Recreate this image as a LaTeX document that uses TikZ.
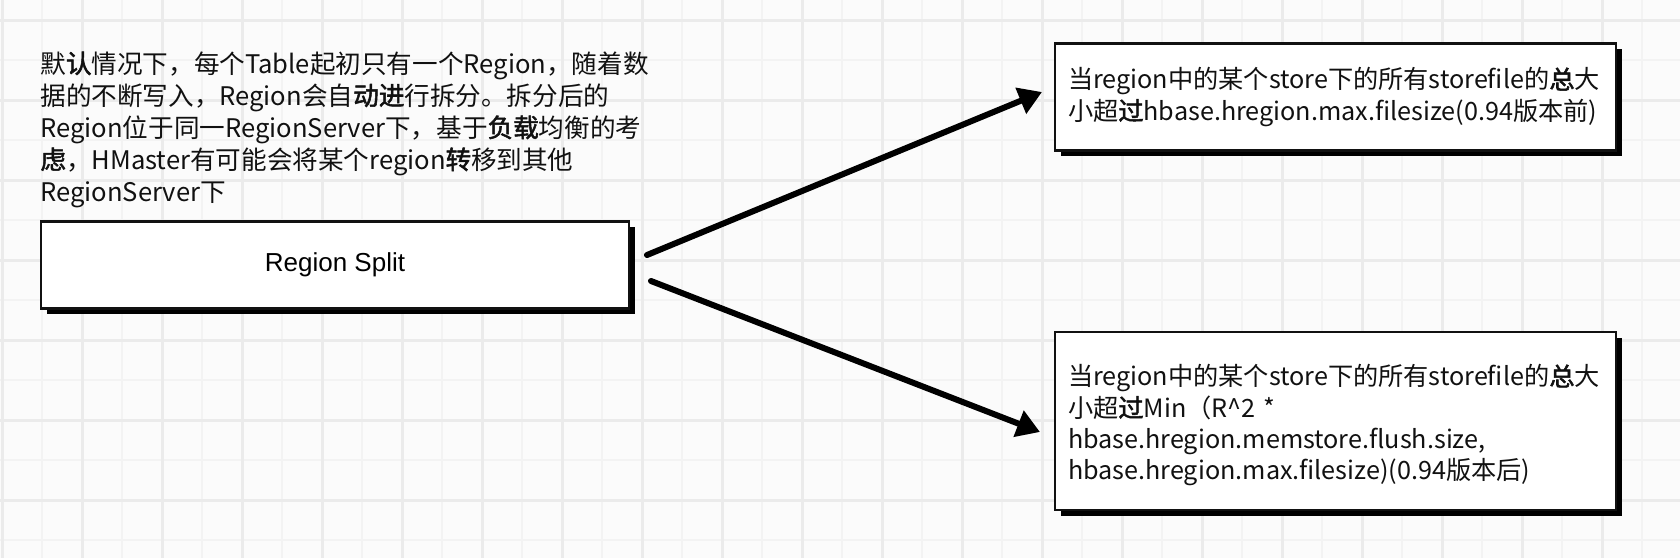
\documentclass[tikz,border=0pt]{standalone}
\usepackage{fontspec}
\setmainfont{Noto Sans CJK SC}
\newfontfamily\bfk[FakeBold=2]{Noto Sans CJK SC}
\newfontfamily\arialf{Liberation Sans}
\newcommand\Bk[1]{{\bfk #1}}
\usetikzlibrary{arrows.meta,calc}
\definecolor{bgc}{HTML}{FBFBFB}
\definecolor{gmaj}{HTML}{EBEBEB}
\definecolor{gmin}{HTML}{F3F3F3}
\definecolor{ink}{HTML}{111111}
\tikzset{
  box/.style={draw=ink, line width=1.4pt, fill=white, inner sep=0pt, outer sep=0pt,
    preaction={fill=black, transform canvas={shift={(2.8pt,-2.8pt)}}}},
  txt/.style={text=ink, align=left, inner sep=0pt},
  arr/.style={line width=3pt, line cap=round, draw=black,
    -{Triangle[length=11.5pt,width=13.5pt]}},
}
\begin{document}
\begin{tikzpicture}[x=0.5pt,y=-0.5pt]
\useasboundingbox (0,0) rectangle (1680,558);
\fill[bgc] (0,0) rectangle (1680,558);
% minor grid
\foreach \x in {42,122,...,1680} \draw[gmin, line width=1pt] (\x,0) -- (\x,558);
\foreach \y in {60,140,...,558} \draw[gmin, line width=1pt] (0,\y) -- (1680,\y);
% major grid
\foreach \x in {2,82,...,1680} \draw[gmaj, line width=1.5pt] (\x,0) -- (\x,558);
\foreach \y in {20,100,...,558} \draw[gmaj, line width=1.5pt] (0,\y) -- (1680,\y);

% description text
\node[txt, anchor=north west, font=\fontsize{12.8}{16}\selectfont] (desc) at (40,51) {%
默\Bk{认}情况下，每个Table起初只有一个Region，随着数\\
据的不断写入，Region会自\Bk{动进}行拆分。拆分后的\\
Region位于同一RegionServer下，基于\Bk{负载}均衡的考\\
\Bk{虑}，HMaster有可能会将某个region\Bk{转}移到其他\\
RegionServer下};

% boxes
\node[box, minimum width=294pt, minimum height=43.5pt,
  font=\arialf\fontsize{13}{15}\selectfont] (split) at (335,265) {Region Split};

\node[box, minimum width=280.5pt, minimum height=53.5pt, txt, text width=267.5pt,
  inner xsep=6.5pt, font=\fontsize{12.6}{15.7}\selectfont] (top) at (1335.5,97) {%
当region中的某个store下的所有storefile的\Bk{总}大\\
小超\Bk{过}hbase.hregion.max.filesize(0.94版本前)};

\node[box, minimum width=280.5pt, minimum height=89pt, txt, text width=267.5pt,
  inner xsep=6.5pt, font=\fontsize{12.6}{15.7}\selectfont] (bot) at (1335.5,421) {%
\rule{0pt}{15pt}当region中的某个store下的所有storefile的\Bk{总}大\\
小超\Bk{过}Min（R\textasciicircum2 *\\
hbase.hregion.memstore.flush.size,\\
hbase.hregion.max.filesize)(0.94版本后)};

% arrows
\draw[arr] ($(split.east)+(18,-10)$) -- ($(top.west)+(-13,-5)$);
\draw[arr] ($(split.east)+(22,16)$) -- ($(bot.west)+(-15,11)$);
\end{tikzpicture}
\end{document}
